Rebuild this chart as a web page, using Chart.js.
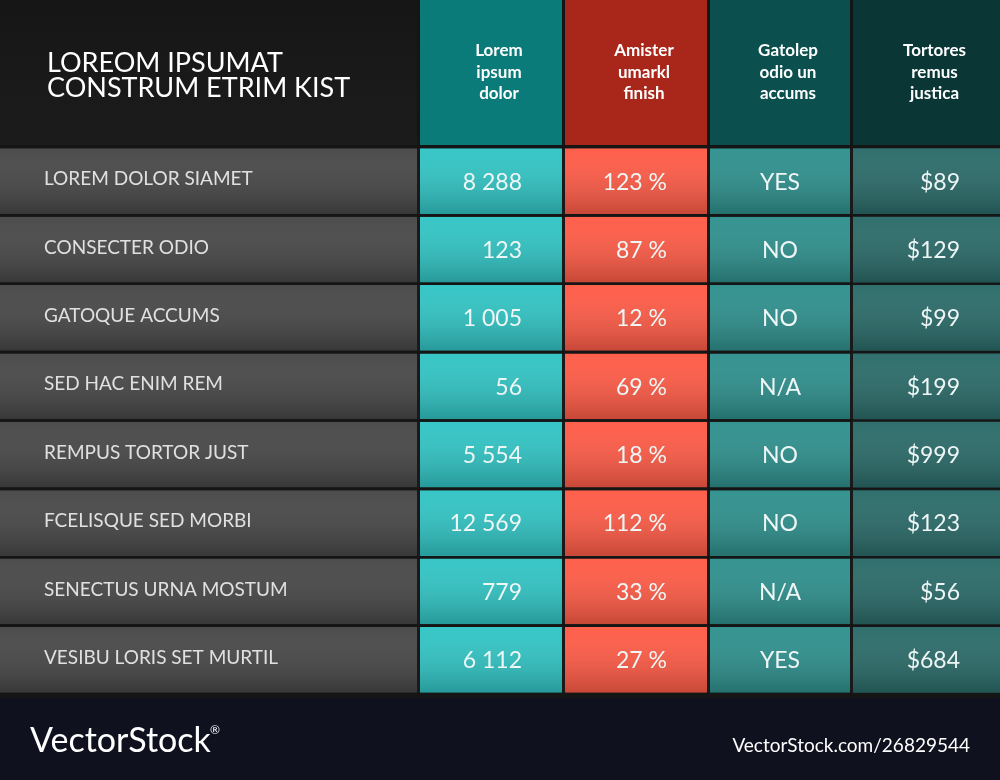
<!DOCTYPE html>
<html>
<head>
<meta charset="utf-8">
<script src="https://cdn.jsdelivr.net/npm/chart.js@4/dist/chart.umd.min.js"></script>
<style>
  body { margin: 0; background: #151515; }
  #wrap { width: 1000px; height: 780px; }
</style>
</head>
<body>
<div id="wrap"><canvas id="c" width="1000" height="780"></canvas></div>
<script>
var title = ['LOREOM IPSUMAT', 'CONSTRUM ETRIM KIST'];
var headers = [['Lorem', 'ipsum', 'dolor'], ['Amister', 'umarkl', 'finish'], ['Gatolep', 'odio un', 'accums'], ['Tortores', 'remus', 'justica']];
var rowNames = ['LOREM DOLOR SIAMET', 'CONSECTER ODIO', 'GATOQUE ACCUMS', 'SED HAC ENIM REM',
  'REMPUS TORTOR JUST', 'FCELISQUE SED MORBI', 'SENECTUS URNA MOSTUM', 'VESIBU LORIS SET MURTIL'];
var amounts = ['8 288', '123', '1 005', '56', '5 554', '12 569', '779', '6 112'];
var percents = ['123 %', '87 %', '12 %', '69 %', '18 %', '112 %', '33 %', '27 %'];
var answers = ['YES', 'NO', 'NO', 'N/A', 'NO', 'NO', 'N/A', 'YES'];
var prices = ['$89', '$129', '$99', '$199', '$999', '$123', '$56', '$684'];

var columns = [rowNames, amounts, percents, answers, prices];
var colWidths = [420, 145, 145, 143, 147];
var cellColors = ['#474747', '#31c4c4', '#ff5b46', '#2e908d', '#2a6b69'];
var headColors = ['#161616', '#0b7b79', '#a9271a', '#0b4f4f', '#0a3636'];
var align = ['left', 'right', 'right', 'center', 'right'];

var datasets = columns.map(function (col, ci) {
  return {
    label: 'col' + ci,
    data: col.map(function () { return colWidths[ci]; }),
    backgroundColor: cellColors[ci],
    borderColor: '#1a1a1a',
    borderWidth: ci < 4 ? { right: 3 } : 0,
    borderSkipped: false,
    barPercentage: 0.96,
    categoryPercentage: 1
  };
});

var tablePlugin = {
  id: 'table',
  beforeDraw: function (chart) {
    var ctx = chart.ctx, x = chart.scales.x;
    ctx.save();
    ctx.fillStyle = '#151515';
    ctx.fillRect(0, 0, 1000, 780);
    // header cells
    var start = 0;
    colWidths.forEach(function (w, ci) {
      var l = x.getPixelForValue(start), r = x.getPixelForValue(start + w) - (ci < 4 ? 3 : 0);
      var g = ctx.createLinearGradient(0, 0, 0, 145);
      g.addColorStop(0, headColors[ci]);
      g.addColorStop(1, ci == 0 ? '#1c1c1c' : headColors[ci]);
      ctx.fillStyle = g;
      ctx.fillRect(l, 0, r - l, 145);
      ctx.fillStyle = '#ffffff';
      if (ci == 0) {
        ctx.font = '27px Lato';
        ctx.textAlign = 'left';
        ctx.textBaseline = 'middle';
        ctx.fillText(title[0], 47, 63);
        ctx.fillText(title[1], 47, 88);
      } else {
        ctx.font = 'bold 17px Lato';
        ctx.textAlign = 'center';
        ctx.textBaseline = 'middle';
        headers[ci - 1].forEach(function (t, k) {
          ctx.fillText(t, (l + r) / 2 + 8, 51 + k * 21.5);
        });
      }
      start += w;
    });
    // bottom band
    ctx.fillStyle = '#10111f';
    ctx.fillRect(0, 698, 1000, 82);
    ctx.fillStyle = '#ffffff';
    ctx.textBaseline = 'middle';
    ctx.textAlign = 'left';
    ctx.font = '34px Lato';
    ctx.fillText('VectorStock', 30, 741);
    ctx.font = '12px Lato';
    ctx.fillText('®', 210, 730);
    ctx.textAlign = 'right';
    ctx.font = '19px Lato';
    ctx.fillText('VectorStock.com/26829544', 970, 746);
    ctx.restore();
  },
  afterDatasetsDraw: function (chart) {
    var ctx = chart.ctx;
    ctx.save();
    chart.data.datasets.forEach(function (ds, ci) {
      var meta = chart.getDatasetMeta(ci);
      meta.data.forEach(function (bar, ri) {
        var top = bar.y - bar.height / 2, bottom = bar.y + bar.height / 2;
        var left = bar.base, right = bar.x - (ci < 4 ? 3 : 0);
        var g = ctx.createLinearGradient(0, top, 0, bottom);
        g.addColorStop(0, 'rgba(255,255,255,0.03)');
        g.addColorStop(1, 'rgba(0,0,0,0.22)');
        ctx.fillStyle = g;
        ctx.fillRect(left, top, right - left, bottom - top);
        ctx.fillStyle = ci == 0 ? '#e0e0e0' : '#eef6f6';
        ctx.textBaseline = 'middle';
        ctx.textAlign = align[ci];
        if (ci == 0) {
          ctx.font = '19px Lato';
          ctx.fillText(columns[0][ri], 44, bar.y - 2);
        } else {
          ctx.font = '23px Lato';
          var tx = align[ci] == 'center' ? (left + right) / 2 : right - 40;
          ctx.fillText(columns[ci][ri], tx, bar.y + 1);
        }
      });
    });
    ctx.restore();
  }
};

new Chart(document.getElementById('c'), {
  type: 'bar',
  data: { labels: rowNames, datasets: datasets },
  options: {
    indexAxis: 'y',
    responsive: false,
    animation: false,
    layout: { padding: { top: 147, bottom: 86, left: 0, right: 0 } },
    scales: {
      x: { stacked: true, min: 0, max: 1000, display: false },
      y: { stacked: true, display: false }
    },
    plugins: { legend: { display: false }, tooltip: { enabled: false } }
  },
  plugins: [tablePlugin]
});
</script>
</body>
</html>
